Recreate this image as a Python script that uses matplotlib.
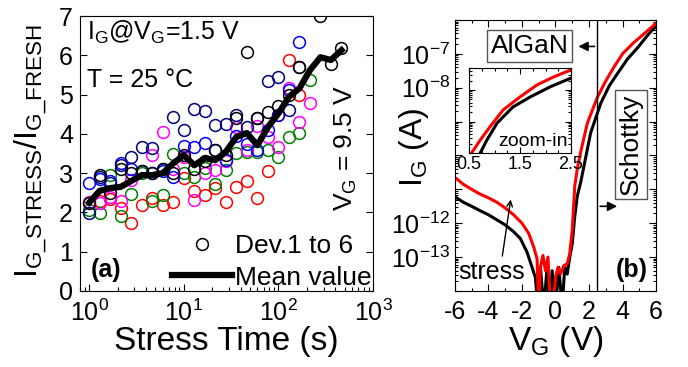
import numpy as np
import matplotlib
matplotlib.use("Agg")
import matplotlib.pyplot as plt
from matplotlib.lines import Line2D
from matplotlib.ticker import FixedLocator, LogLocator, NullFormatter, MultipleLocator

plt.rcParams['font.family'] = ['Liberation Sans', 'DejaVu Sans']
plt.rcParams['mathtext.fontset'] = 'custom'
plt.rcParams['mathtext.rm'] = 'Liberation Sans'
plt.rcParams['mathtext.it'] = 'Liberation Sans:italic'
plt.rcParams['mathtext.bf'] = 'Liberation Sans:bold'
plt.rcParams['axes.unicode_minus'] = False

# ---- panel (a) data ----
stress_time = [1.0, 1.29, 1.67, 2.15, 2.78, 3.59, 4.64, 5.99, 7.74, 10.0, 12.9, 16.7, 21.5,
               27.8, 35.9, 46.4, 59.9, 77.4, 100, 129, 167, 215, 278, 359, 464]
nan = np.nan
dev_black = [2.24, 2.95, 2.49, 3.1, 3.0, 3.05, 3.0, 3.1, 3.0, 3.46, 3.1, 3.3, 3.59,
             3.45, 4.4, 6.08, 4.4, 4.55, 4.7, 5.0, 5.7, nan, 7.0, 5.77, 6.18]
dev_red = [nan, 2.3, 2.35, 2.1, 1.73, 2.19, 2.37, 2.19, 2.26, 2.87, 2.55, 2.44, 2.62,
           2.26, 2.65, 2.8, 2.37, 3.05, 4.48, 5.88, 4.99, nan, nan, nan, nan]
dev_green = [2.06, 1.98, 2.95, 1.92, 2.47, 3.0, 2.28, 2.44, 3.49, 3.0, 2.9, 3.12, 2.73,
             3.08, 3.5, 3.54, 3.54, 3.59, 3.41, 3.92, 4.02, 5.37, nan, nan, nan]
dev_magenta = [2.26, 2.24, 2.4, 2.3, 2.82, nan, 3.46, 4.05, 3.1, 3.41, 2.32, 3.0, 3.08,
               3.3, 4.17, 3.6, 4.2, 3.92, 3.67, 5.16, 4.3, 4.78, nan, nan, nan]
dev_blue = [2.75, 2.85, 2.8, 3.25, 3.1, 3.05, 3.0, 3.05, 2.9, 3.7, 3.67, 3.76, 3.59,
            3.33, 3.94, 3.74, 3.59, 4.1, 4.48, 5.11, 6.34, nan, nan, nan, nan]
dev_navy = [1.98, 2.9, 2.75, 3.2, 3.4, 3.66, 3.64, 3.1, 4.43, 4.1, 4.63, 4.58, 4.22,
            4.25, 4.48, 4.17, 4.4, 5.34, 5.44, 4.6, 5.7, nan, nan, nan, nan]
mean_value = [2.25, 2.55, 2.62, 2.65, 2.8, 2.95, 2.95, 3.0, 3.25, 3.46, 3.2, 3.38, 3.33,
              3.54, 3.92, 4.02, 3.71, 4.17, 4.52, 4.94, 5.16, 5.62, 5.95, 5.88, 6.13]

devices = [(dev_red, 'red'), (dev_green, 'green'), (dev_magenta, 'magenta'),
           (dev_blue, 'blue'), (dev_navy, 'navy'), (dev_black, 'black')]

# ---- panel (b) data: log10(I_G) vs V_G ----
vg_fresh = [-6.0, -5.5, -5.0, -4.5, -4.0, -3.5, -3.0, -2.5, -2.1, -1.7, -1.4, -1.2, -1.05,
            -0.9, -0.7, -0.5, -0.35, -0.2, 0.0, 0.2, 0.4, 0.55, 0.7, 0.85, 1.0, 1.15,
            1.3, 1.5, 2.1, 2.7, 3.2, 3.7, 4.3, 4.9, 5.5, 6.0]
logi_fresh = [-11.22, -11.38, -11.5, -11.63, -11.75, -11.9, -12.05, -12.25, -12.45, -12.85,
              -13.3, -13.6, -14.5, -13.3, -14.5, -13.3, -14.5, -13.4, -14.5, -13.3, -14.5,
              -13.3, -13.5, -13.0, -12.6, -11.8, -11.2, -10.8, -9.33, -8.46, -7.95, -7.58,
              -7.15, -6.82, -6.45, -6.18]
vg_stress = [-6.0, -5.5, -5.0, -4.5, -4.0, -3.5, -3.0, -2.5, -2.0, -1.6, -1.3, -1.1, -1.0,
             -0.9, -0.75, -0.6, -0.45, -0.3, -0.15, 0.0, 0.15, 0.3, 0.5, 0.7, 0.85, 1.0,
             1.15, 1.3, 1.5, 1.9, 2.5, 3.0, 3.5, 4.0, 4.6, 5.3, 6.0]
logi_stress = [-10.65, -10.85, -11.0, -11.14, -11.25, -11.38, -11.55, -11.75, -12.0, -12.3,
               -12.7, -13.05, -14.5, -13.3, -12.95, -13.4, -13.0, -14.5, -14.5, -13.6,
               -13.3, -13.5, -13.25, -13.2, -12.9, -12.2, -10.9, -10.4, -9.9, -9.05, -8.28,
               -7.8, -7.38, -7.0, -6.7, -6.4, -6.1]

# inset (zoom-in)
vg_in_fresh = [0.72, 0.85, 1.05, 1.36, 1.7, 2.09, 2.5]
logi_in_fresh = [-10.0, -9.59, -9.05, -8.54, -8.22, -7.9, -7.62]
vg_in_stress = [0.55, 0.72, 0.91, 1.17, 1.5, 1.83, 2.15, 2.5]
logi_in_stress = [-10.0, -9.59, -9.17, -8.63, -8.22, -7.84, -7.59, -7.36]

fig = plt.figure(figsize=(6.88, 3.67), dpi=100)

# ================= panel (a) =================
ax1 = fig.add_axes([0.1163, 0.2071, 0.4259, 0.7493])
for vals, col in devices:
    ax1.plot(stress_time, vals, 'o', ls='none', mfc='none', mec=col, ms=8.5, mew=1.1)
ax1.plot(stress_time, mean_value, color='black', lw=4.5)
ax1.set_xscale('log')
ax1.set_xlim(0.8, 1000)
ax1.set_ylim(0, 7)
ax1.set_yticks(range(8))
ax1.tick_params(which='both', direction='in', top=False, right=True, labelsize=18, width=0.8)
ax1.tick_params(which='major', length=5)
ax1.tick_params(which='minor', length=3)
ax1.tick_params(axis='x', pad=6.5)
ax1.tick_params(axis='y', pad=5)
ax1.set_xticks([1, 10, 100, 1000])
ax1.set_xticklabels([r'$\mathregular{10^0}$', r'$\mathregular{10^1}$',
                     r'$\mathregular{10^2}$', r'$\mathregular{10^3}$'])
ax1.set_xlabel('Stress Time (s)', fontsize=24, labelpad=0)
ax1.set_ylabel(r'$\mathregular{I_{G\_STRESS}/I_{G\_FRESH}}$', fontsize=23)
ax1.yaxis.set_label_coords(-0.105, 0.51)
ax1.text(0.024, 0.99, r'$\mathregular{I_G@V_G}$=1.5 V', transform=ax1.transAxes,
         fontsize=18, va='top', ha='left')
ax1.text(0.024, 0.81, 'T = 25 °C', transform=ax1.transAxes, fontsize=18, va='top', ha='left')
ax1.text(0.908, 0.52, r'$\mathregular{V_G}$ = 9.5 V', transform=ax1.transAxes, fontsize=19,
         rotation=90, va='center', ha='center')
ax1.text(0.035, 0.076, '(a)', transform=ax1.transAxes, fontsize=18, fontweight='bold',
         va='center', ha='left')
handles = [Line2D([], [], marker='o', ls='none', mfc='none', mec='black', ms=8.5, mew=1.1),
           Line2D([], [], color='black', lw=4.5)]
ax1.legend(handles, ['Dev.1 to 6', 'Mean value'], loc='lower right', frameon=False,
           fontsize=19, handlelength=2.3, handletextpad=0.1, labelspacing=0.3,
           borderaxespad=0.0, borderpad=0.05)

# ================= panel (b) =================
ax2 = fig.add_axes([0.6613, 0.2071, 0.2922, 0.7384])
ax2.plot(vg_fresh, 10.0 ** np.array(logi_fresh), color='black', lw=2.2)
ax2.plot(vg_stress, 10.0 ** np.array(logi_stress), color='red', lw=2.2)
ax2.set_yscale('log')
ax2.set_xlim(-6, 6)
ax2.set_ylim(1e-14, 1e-6)
ax2.axvline(2.5, color='black', lw=1)
ax2.set_xticks([-6, -4, -2, 0, 2, 4, 6])
ax2.xaxis.set_minor_locator(MultipleLocator(1))
decades = [1e-14, 1e-13, 1e-12, 1e-11, 1e-10, 1e-9, 1e-8, 1e-7, 1e-6]
shown = {-13: r'$\mathregular{10^{-13}}$', -12: r'$\mathregular{10^{-12}}$',
         -8: r'$\mathregular{10^{-8}}$', -7: r'$\mathregular{10^{-7}}$'}
ax2.yaxis.set_major_locator(FixedLocator(decades))
ax2.set_yticklabels([shown.get(int(round(np.log10(d))), '') for d in decades])
ax2.yaxis.set_minor_locator(LogLocator(base=10, subs=np.arange(2, 10), numticks=50))
ax2.yaxis.set_minor_formatter(NullFormatter())
ax2.tick_params(which='both', direction='in', top=True, right=True, labelsize=18, width=0.8)
ax2.tick_params(which='major', length=5)
ax2.tick_params(which='minor', length=2.5)
ax2.tick_params(axis='x', pad=6.5)
ax2.set_xlabel(r'$\mathregular{V_G}$ (V)', fontsize=24, labelpad=0)
ax2.set_ylabel(r'$\mathregular{I_G}$ (A)', fontsize=23)
ax2.yaxis.set_label_coords(-0.12, 0.53)

ax2.text(0.015, 0.07, 'stress', transform=ax2.transAxes, fontsize=18, va='center', ha='left')
ax2.annotate('', xy=(-2.65, 10 ** -11.22), xytext=(-3.2, 10 ** -13.05),
             arrowprops=dict(arrowstyle='->', color='black', lw=1))
ax2.text(0.88, 0.077, '(b)', transform=ax2.transAxes, fontsize=18, fontweight='bold',
         va='center', ha='center')
ax2.text(-1.55, 10 ** -6.78, 'AlGaN', fontsize=19, ha='center', va='center',
         bbox=dict(boxstyle='square,pad=0.15', fc='white', ec='#555555', lw=1))
ax2.annotate('', xy=(1.2, 10 ** -6.78), xytext=(2.5, 10 ** -6.78),
             arrowprops=dict(arrowstyle='-|>', color='black', lw=1.2, mutation_scale=14))
ax2.text(4.5, 10 ** -9.68, 'Schottky', fontsize=19, rotation=90, ha='center', va='center',
         bbox=dict(boxstyle='square,pad=0.15', fc='white', ec='#555555', lw=1))
ax2.annotate('', xy=(3.85, 10 ** -11.5), xytext=(2.5, 10 ** -11.5),
             arrowprops=dict(arrowstyle='-|>', color='black', lw=1.2, mutation_scale=14))

# inset
ax3 = fig.add_axes([0.6817, 0.5831, 0.1483, 0.2316])
ax3.plot(vg_in_fresh, 10.0 ** np.array(logi_in_fresh), color='black', lw=2.2)
ax3.plot(vg_in_stress, 10.0 ** np.array(logi_in_stress), color='red', lw=2.2)
ax3.set_yscale('log')
ax3.set_xlim(0.5, 2.5)
ax3.set_ylim(1e-10, 5e-8)
ax3.set_xticks([0.5, 1.5, 2.5])
ax3.set_xticklabels(['0.5', '1.5', '2.5'])
ax3.xaxis.set_minor_locator(MultipleLocator(0.25))
ax3.yaxis.set_major_locator(FixedLocator([1e-9, 1e-8]))
ax3.yaxis.set_minor_locator(LogLocator(base=10, subs=np.arange(2, 10), numticks=50))
ax3.yaxis.set_major_formatter(NullFormatter())
ax3.yaxis.set_minor_formatter(NullFormatter())
ax3.tick_params(which='both', direction='in', top=True, right=True, labelsize=13, width=0.8)
ax3.tick_params(which='major', length=4, pad=2)
ax3.tick_params(which='minor', length=2)
ax3.text(0.97, 0.04, 'zoom-in', transform=ax3.transAxes, fontsize=14, ha='right', va='bottom')

fig.savefig('out.png', dpi=100)
